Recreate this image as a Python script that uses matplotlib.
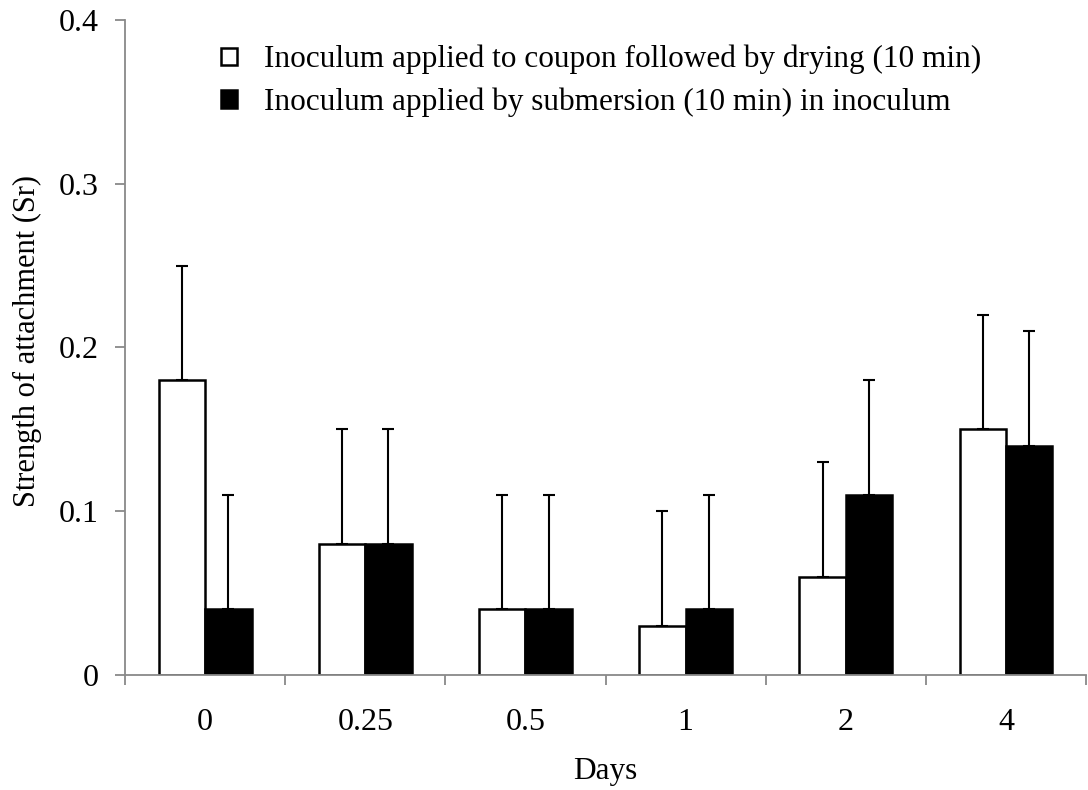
import numpy as np
import matplotlib.pyplot as plt
from matplotlib.ticker import FixedLocator

plt.rcParams['font.family'] = ['Liberation Serif', 'DejaVu Serif']

# データ
days = ['0', '0.25', '0.5', '1', '2', '4']
dried = [0.18, 0.08, 0.04, 0.03, 0.06, 0.15]        # 乾燥
submerged = [0.04, 0.08, 0.04, 0.04, 0.11, 0.14]    # 浸漬
dried_err = [0.07, 0.07, 0.07, 0.07, 0.07, 0.07]
submerged_err = [0.07, 0.07, 0.07, 0.07, 0.07, 0.07]
labels = ['Inoculum applied to coupon followed by drying (10 min)',
          'Inoculum applied by submersion (10 min) in inoculum']

fig = plt.figure(figsize=(10.88, 7.9), dpi=100)
ax = fig.add_axes([0.1149, 0.1456, 0.8833, 0.8291])

x = np.arange(len(days))
w = 0.29
ekw = dict(ecolor='black', elinewidth=1.5, capsize=4.3, capthick=1.5)
ax.bar(x - w / 2, dried, w, yerr=[np.zeros(len(x)), dried_err], color='white',
       edgecolor='black', linewidth=1.8, error_kw=ekw, label=labels[0], zorder=2)
ax.bar(x + w / 2, submerged, w, yerr=[np.zeros(len(x)), submerged_err], color='black',
       edgecolor='black', linewidth=1.8, error_kw=ekw, label=labels[1], zorder=2)

ax.set_xlim(-0.5, len(days) - 0.5)
ax.set_ylim(0, 0.4)
ax.set_yticks([0, 0.1, 0.2, 0.3, 0.4])
ax.set_yticklabels(['0', '0.1', '0.2', '0.3', '0.4'])
ax.set_xticks(x)
ax.set_xticklabels(days)
ax.xaxis.set_minor_locator(FixedLocator(np.arange(len(days) + 1) - 0.5))

# 軸の体裁
for s in ['top', 'right']:
    ax.spines[s].set_visible(False)
for s in ['left', 'bottom']:
    ax.spines[s].set_color('#898989')
    ax.spines[s].set_linewidth(1.3)
ax.tick_params(axis='y', direction='out', length=7, width=1.3, color='#898989',
               labelsize=23, pad=12)
ax.tick_params(axis='x', which='major', length=0, labelsize=23, pad=24)
ax.tick_params(axis='x', which='minor', direction='out', length=7, width=1.3,
               color='#898989')

ax.set_xlabel('Days', fontsize=22.5, labelpad=14)
ax.set_ylabel('Strength of attachment (Sr)', fontsize=22)
ax.yaxis.set_label_coords(-0.086, 0.51)

ax.legend(loc='upper left', bbox_to_anchor=(221 / 1088, 745 / 790),
          bbox_transform=fig.transFigure, frameon=False, fontsize=22.5,
          borderaxespad=0, borderpad=0,
          handlelength=0.5, handleheight=0.5, handletextpad=0.87, labelspacing=0.42)

plt.savefig('out.png', dpi=100)
